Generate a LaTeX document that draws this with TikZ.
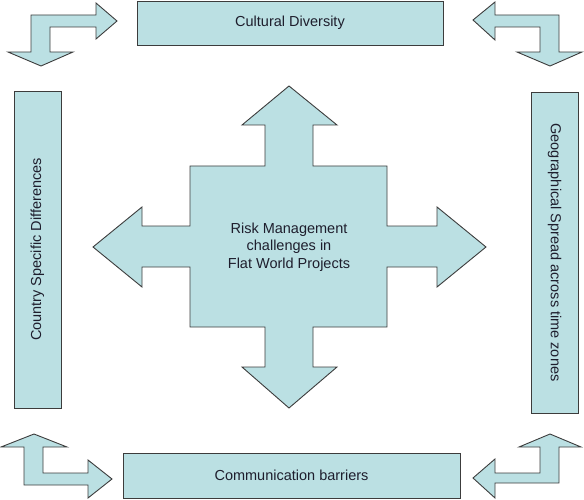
\documentclass[tikz,border=0pt]{standalone}
\usepackage{fontspec}
\setmainfont{Liberation Sans}
\definecolor{boxfill}{RGB}{187,224,227}
\definecolor{edge}{RGB}{60,60,60}
\definecolor{txt}{RGB}{30,30,45}
\begin{document}
\begin{tikzpicture}[x=1pt,y=-1pt,
  shapestyle/.style={fill=boxfill,draw=edge,line width=0.9pt,line join=miter},
  box/.style={shapestyle,rectangle,inner sep=0pt,text=txt,font=\fontsize{14.5}{17.5}\selectfont},
  label/.style={text=txt,align=center,font=\fontsize{14.5}{17.5}\selectfont}]
\useasboundingbox (0,0) rectangle (584,500);
% corner bent arrows
\draw[shapestyle] (41,66) -- (73,52) -- (50,52) -- (50,27) -- (96,27) -- (96,39) -- (117,21) -- (96,3) -- (96,15) -- (31,15) -- (31,52) -- (8,52) -- cycle;
\draw[shapestyle] (473,20) -- (495,2) -- (495,15) -- (559,15) -- (559,52) -- (582,52) -- (550,66) -- (517,52) -- (540,52) -- (540,27) -- (495,27) -- (495,40) -- cycle;
\draw[shapestyle] (34,434) -- (67,447) -- (43,447) -- (43,473) -- (88,473) -- (88,460) -- (112,479) -- (88,498) -- (88,485) -- (24,485) -- (24,447) -- (1,447) -- cycle;
\draw[shapestyle] (550,434) -- (581,447) -- (559,447) -- (559,483) -- (495,483) -- (495,498) -- (473,478) -- (495,459) -- (495,473) -- (540,473) -- (540,447) -- (519,447) -- cycle;
% central four-way arrow
\draw[shapestyle] (289,86) -- (337,125) -- (313,125) -- (313,166) -- (387,166) -- (387,226) -- (437,226) -- (437,207) -- (486,247) -- (437,287) -- (437,267) -- (387,267) -- (387,327) -- (313,327) -- (313,367) -- (337,367) -- (289,408) -- (242,367) -- (265,367) -- (265,327) -- (190,327) -- (190,267) -- (142,267) -- (142,287) -- (93,247) -- (142,207) -- (142,226) -- (190,226) -- (190,166) -- (265,166) -- (265,125) -- (242,125) -- cycle;
\node[label] (center) at (289,247) {Risk Management\\challenges in\\Flat World Projects};
% boxes
\node[box,minimum width=306pt,minimum height=44pt] (cult) at (290,23) {Cultural Diversity};
\node[box,minimum width=337pt,minimum height=45pt] (comm) at (291.5,475.5) {Communication barriers};
\node[box,rotate=90,minimum width=317pt,minimum height=47pt] (country) at (37.5,249.5) {Country Specific Differences};
\node[box,rotate=-90,minimum width=321pt,minimum height=47pt] (geo) at (554.5,252.5) {Geographical Spread across time zones};
\end{tikzpicture}
\end{document}
